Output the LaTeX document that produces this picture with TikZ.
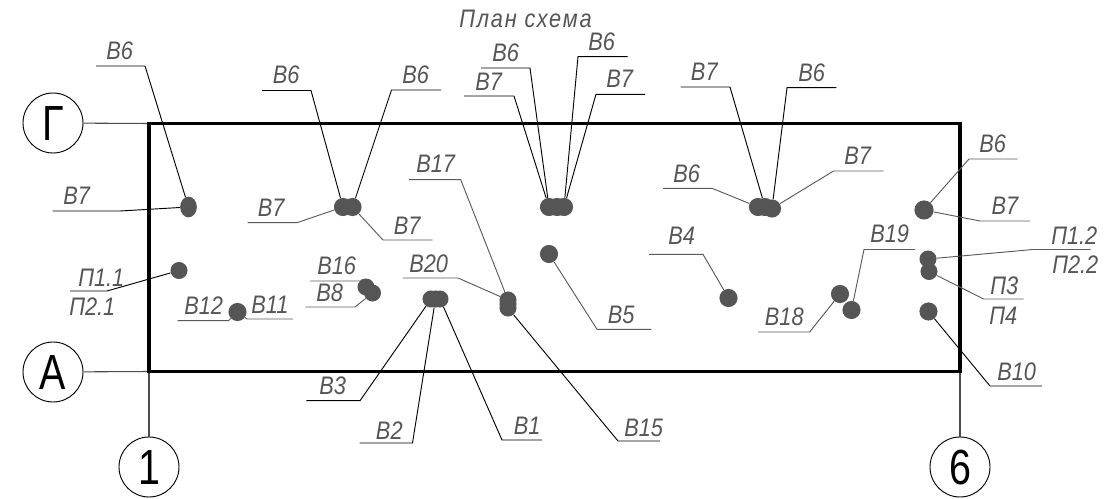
\documentclass[tikz,border=0pt]{standalone}
\usepackage{fontspec}
\setmainfont{Liberation Sans}
\newfontfamily\lblfont[FakeStretch=.86]{Liberation Sans}
\newfontfamily\ttlfont[FakeStretch=.86,LetterSpace=7]{Liberation Sans}
\usetikzlibrary{shapes.geometric}
\definecolor{dotgray}{HTML}{555555}
\definecolor{textgray}{HTML}{555555}
\definecolor{leadgray}{HTML}{5A5A5A}
\tikzset{
  frameline/.style={line width=2.3pt,black,line join=miter},
  axisline/.style={line width=.8pt,black!70},
  axiscircle/.style={circle,draw=black,line width=.7pt,minimum size=45pt,inner sep=0pt,font=\fontsize{37pt}{37pt}\selectfont},
  dotnode/.style={circle,fill=dotgray,inner sep=0pt,minimum size=#1*.8pt},
  dotnode/.default=17,
  ovalnode/.style={ellipse,fill=dotgray,inner sep=0pt,minimum width=12.5pt,minimum height=15.5pt},
  lead/.style={line width=.7pt,black},
  leadg/.style={line width=.7pt,leadgray},
  lbl/.style={anchor=base west,inner sep=0pt,text=textgray,font=\lblfont\fontsize{19pt}{19pt}\selectfont\itshape},
}
\newcommand{\ldr}[5]{\coordinate (#1k) at (#3);\coordinate (#1e) at (#4);\draw[#5] (#2) -- (#1k) -- (#1e);}
\newcommand{\lbltext}[3]{\node[lbl] (#1) at (#2) {#3};}
\newcommand{\axglyph}[1]{\smash{\makebox[0pt]{\raisebox{-.358em}{\scalebox{.8}[1]{#1}}}}}
\begin{document}
\begin{tikzpicture}[x=.75pt,y=-.75pt]
\useasboundingbox (0,0) rectangle (1115,499);
\coordinate (nw) at (149,123.5);\coordinate (ne) at (960,123.5);
\coordinate (se) at (960,371.5);\coordinate (sw) at (149,371.5);
\node[axiscircle] (axG) at (53,123) {\axglyph{Г}};
\node[axiscircle] (axA) at (53,372) {\axglyph{А}};
\node[axiscircle] (ax1) at (149,467) {\axglyph{1}};
\node[axiscircle] (ax6) at (960,467) {\axglyph{6}};
\draw[axisline] (axG) -- (nw);
\draw[axisline] (axA) -- (sw);
\draw[axisline] (ax1) -- (sw);
\draw[axisline] (ax6) -- (se);
\draw[frameline] (nw) -- (ne) -- (se) -- (sw) -- cycle;
\node[ovalnode] (d1) at (188.5,207) {};
\node[dotnode] (g2a) at (343,207) {};
\node[dotnode=15] (g2m) at (347.5,207) {};
\node[dotnode] (g2b) at (352.5,207) {};
\node[dotnode] (g3a) at (549,207) {};
\node[dotnode] (g3b) at (557,207) {};
\node[dotnode] (g3c) at (564,207) {};
\node[dotnode] (g4a) at (758,207) {};
\node[dotnode] (g4m) at (765,207) {};
\node[dotnode] (g4b) at (772,208.5) {};
\node[dotnode=18] (d5) at (924,210) {};
\node[dotnode] (d6) at (549,254) {};
\node[dotnode=16] (p11) at (179,270.5) {};
\node[dotnode=17] (b12) at (237.5,312) {};
\node[dotnode=16] (b16) at (366,287) {};
\node[dotnode=16] (b8) at (372.5,293) {};
\node[dotnode=16] (g20a) at (431,299) {};
\node[dotnode=16] (g20m) at (435.5,299) {};
\node[dotnode=16] (g20b) at (440,299) {};
\node[dotnode=16] (g17a) at (508,300) {};
\node[dotnode=16] (g17m) at (508,304) {};
\node[dotnode=16] (g17b) at (508,308) {};
\node[dotnode=17] (b4) at (728.5,298) {};
\node[dotnode=17] (b18) at (840,294) {};
\node[dotnode=17] (b19) at (851.5,310) {};
\node[dotnode=16] (p12) at (928,259) {};
\node[dotnode=16] (p3) at (929,271.5) {};
\node[dotnode=17] (b10) at (928.5,311.5) {};
\ldr{a1}{d1}{145,66}{96,66}{lead}
\ldr{a2}{d1}{120,211}{52.5,211}{lead}
\ldr{a3}{g2a}{311,90.5}{262,90.5}{lead}
\ldr{a4}{g2b}{391.5,90}{441,90}{lead}
\ldr{a5}{g2a}{297,222.7}{247.5,222.7}{leadg}
\ldr{a6}{g2b}{383,240}{432.5,240}{leadg}
\ldr{a7}{g17a}{460.7,179.7}{409,179.7}{leadg}
\ldr{a8}{g3a}{530,68}{481,68}{lead}
\ldr{a9}{g3a}{514,96}{464,96}{lead}
\ldr{b1}{g3c}{578,56.7}{627.5,56.7}{lead}
\ldr{b2}{g3c}{596,94.3}{645,94.3}{lead}
\ldr{b3}{g4m}{730,87}{680.7,87}{lead}
\ldr{b4}{g4b}{787,87.7}{836.4,87.7}{lead}
\ldr{b5}{g4a}{712,188.3}{663,188.3}{leadg}
\ldr{b6}{g4b}{833.6,171}{883.6,171}{leadg}
\ldr{b7}{d5}{969,159}{1017.5,159}{leadg}
\ldr{b8}{d5}{980,221}{1030,221}{leadg}
\ldr{b9}{p12}{1033,249.5}{1090.7,249.5}{leadg}
\ldr{c1}{p3}{983.6,299}{1023.6,299}{leadg}
\ldr{c2}{b10}{990,386}{1042,386}{lead}
\ldr{c3}{g17b}{618,441}{660,441}{lead}
\ldr{c4}{d6}{597,329.3}{651.4,329.3}{leadg}
\ldr{c5}{b4}{703,254.3}{649,254.3}{leadg}
\ldr{c6}{b18}{809.6,332}{758,332}{leadg}
\ldr{c7}{b19}{864,249.5}{915,249.5}{leadg}
\ldr{c8}{p11}{107,291}{70,291}{lead}
\ldr{c9}{b12}{228.6,320.7}{177.5,320.7}{leadg}
\ldr{e1}{b12}{247,319}{293,319}{leadg}
\ldr{e2}{b16}{362,281}{310,281}{leadg}
\ldr{e3}{b8}{355,307}{305.4,307}{leadg}
\ldr{e4}{g17a}{458,278}{403,278}{leadg}
\ldr{e5}{g20a}{360,400.7}{306.4,400.7}{lead}
\ldr{e6}{g20m}{412.5,443}{359.6,443}{lead}
\ldr{e7}{g20b}{502,440}{542,440}{lead}
\node[lbl,font=\ttlfont\fontsize{19pt}{19pt}\selectfont\itshape] (title) at (459,27.5) {План схема};
\lbltext{t1}{106,60}{В6}
\lbltext{t2}{63,205}{В7}
\lbltext{t3}{272.5,84}{В6}
\lbltext{t4}{402,84}{В6}
\lbltext{t5}{257.5,216.7}{В7}
\lbltext{t6}{393.5,235}{В7}
\lbltext{t7}{416,173}{В17}
\lbltext{t8}{492,62}{В6}
\lbltext{t9}{475,90.7}{В7}
\lbltext{t10}{588,51}{В6}
\lbltext{t11}{606,87.7}{В7}
\lbltext{t12}{690.7,80.7}{В7}
\lbltext{t13}{798,81.7}{В6}
\lbltext{t14}{673,182.3}{В6}
\lbltext{t15}{844,164.3}{В7}
\lbltext{t16}{979,152.7}{В6}
\lbltext{t17}{991.4,214.3}{В7}
\lbltext{t18}{668,245}{В4}
\lbltext{t19}{870,243}{В19}
\lbltext{t20}{1051,244.3}{П1.2}
\lbltext{t21}{1052,273.3}{П2.2}
\lbltext{t22}{990,294.7}{П3}
\lbltext{t23}{989,324.7}{П4}
\lbltext{t24}{997,380.7}{В10}
\lbltext{t25}{624,436.7}{В15}
\lbltext{t26}{607.5,323.3}{В5}
\lbltext{t27}{764.6,325.7}{В18}
\lbltext{t28}{78,286.7}{П1.1}
\lbltext{t29}{69,315.7}{П2.1}
\lbltext{t30}{184,314.7}{В12}
\lbltext{t31}{251,314}{В11}
\lbltext{t32}{317,274.7}{В16}
\lbltext{t33}{316,301.3}{В8}
\lbltext{t34}{409,272.3}{В20}
\lbltext{t35}{319,394.3}{В3}
\lbltext{t36}{375.7,439}{В2}
\lbltext{t37}{513.6,434.7}{В1}
\end{tikzpicture}
\end{document}
